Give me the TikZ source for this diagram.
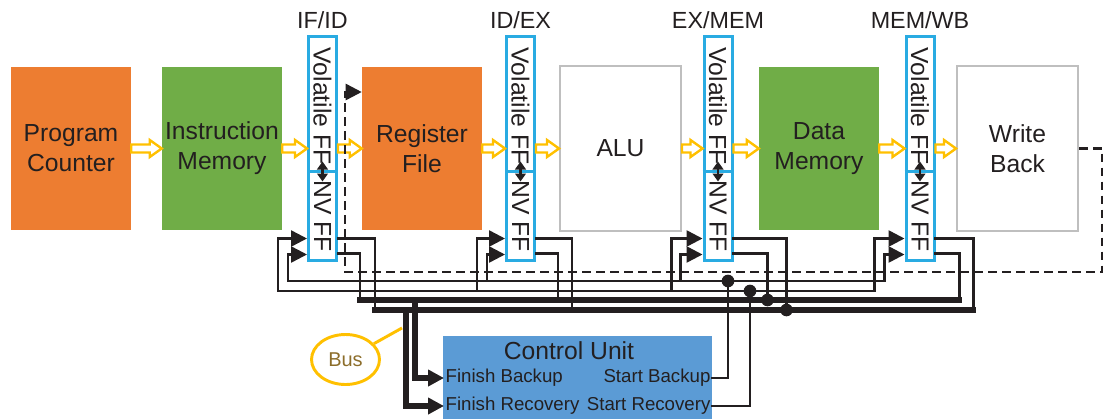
\documentclass[tikz,border=0pt]{standalone}
\usepackage{fontspec}
\setmainfont{Liberation Sans}
\usetikzlibrary{arrows.meta,calc,shapes.geometric,positioning}

\definecolor{pcorange}{HTML}{ED7D31}
\definecolor{memgreen}{HTML}{70AD47}
\definecolor{ffblue}{HTML}{29ABE2}
\definecolor{cublue}{HTML}{5B9BD5}
\definecolor{arrowyellow}{HTML}{FFC000}
\definecolor{boxgray}{HTML}{BFBFBF}
\definecolor{ink}{HTML}{231F20}
\definecolor{busbrown}{HTML}{8C6D2A}

% hollow yellow arrow between two stages
\newcommand{\hollowarrow}[2]{%
  \draw[hollow] ($(#1.east)+(0,-4)$) -- ($(#2.west)+(-12,-4)$) -- ($(#2.west)+(-12,-8.5)$)
    -- (#2.west) -- ($(#2.west)+(-12,8.5)$) -- ($(#2.west)+(-12,4)$) -- ($(#1.east)+(0,4)$) -- cycle;}

\begin{document}
\begin{tikzpicture}[x=0.75pt,y=-0.75pt,>={Triangle[length=12pt,width=12pt]}]
\tikzstyle{block} = [minimum width=90pt,minimum height=122.25pt,inner sep=0pt,align=center,text=ink,font=\fontsize{18.5}{22.5}\selectfont]
\tikzstyle{grayblock} = [block,draw=boxgray,line width=1.5pt,fill=white,minimum width=90.75pt,minimum height=123.75pt]
\tikzstyle{ffbox} = [draw=ffblue,line width=2.25pt,fill=white,minimum width=21pt,minimum height=168pt,inner sep=0pt]
\tikzstyle{fftext} = [rotate=-90,inner sep=0pt,text=ink,font=\fontsize{18.5}{22}\selectfont]
\tikzstyle{fflabel} = [inner sep=0pt,text=ink,font=\fontsize{17.5}{21}\selectfont]
\tikzstyle{wire} = [ink,line width=1.9pt,line cap=rect]
\tikzstyle{bus} = [ink,line width=3.8pt,line cap=rect]
\tikzstyle{feedback} = [ink,line width=1.9pt,dash pattern=on 6.5pt off 4pt]
\tikzstyle{junction} = [circle,fill=ink,minimum size=9.5pt,inner sep=0pt]
\tikzstyle{hollow} = [draw=arrowyellow,line width=1.8pt,fill=white,line join=miter]
\tikzstyle{cuport} = [inner sep=1pt,text=ink,font=\fontsize{14}{16}\selectfont]

\useasboundingbox (0,0) rectangle (1105,418);

% pipeline stages
\node[block,fill=pcorange] (pc) at (71,148.5) {Program\\Counter};
\node[block,fill=memgreen] (im) at (222,148.5) {Instruction\\Memory};
\node[ffbox] (ifid) at (322.5,148.5) {};
\node[block,fill=pcorange] (rf) at (422,148.5) {Register\\File};
\node[ffbox] (idex) at (520.5,148.5) {};
\node[grayblock] (alu) at (620.5,148.5) {ALU};
\node[ffbox] (exmem) at (718,148.5) {};
\node[block,fill=memgreen] (dm) at (819,148.5) {Data\\Memory};
\node[ffbox] (memwb) at (920,148.5) {};
\node[grayblock] (wb) at (1017.5,148.5) {Write\\Back};

\node[fflabel] (ifid-lbl) at ($(ifid.north)+(0,-15)$) {IF/ID};
\node[fflabel] (idex-lbl) at ($(idex.north)+(0,-15)$) {ID/EX};
\node[fflabel] (exmem-lbl) at ($(exmem.north)+(0,-15)$) {EX/MEM};
\node[fflabel] (memwb-lbl) at ($(memwb.north)+(0,-15)$) {MEM/WB};

\hollowarrow{pc}{im}
\hollowarrow{im}{ifid}
\hollowarrow{ifid}{rf}
\hollowarrow{rf}{idex}
\hollowarrow{idex}{alu}
\hollowarrow{alu}{exmem}
\hollowarrow{exmem}{dm}
\hollowarrow{dm}{memwb}
\hollowarrow{memwb}{wb}

% flip-flops and their backup/recovery wires
\foreach \ff/\ia/\ib/\oa/\ob in {ifid/29/19/37/22,idex/28/18/36/22,exmem/31/22/53/34,memwb/30/20/38/24} {
  \node[fftext] (\ff-vol) at ($(\ff.center)+(0,-42.5)$) {Volatile FF};
  \node[fftext] (\ff-nv) at ($(\ff.center)+(0,67.5)$) {NV FF};
  \draw[ffblue,line width=2.25pt] ($(\ff.west)+(0,23)$) -- ($(\ff.east)+(0,23)$);
  \draw[ink,line width=1.6pt,{Triangle[length=6pt,width=8pt]}-{Triangle[length=6pt,width=8pt]}] ($(\ff.center)+(0,13)$) -- ($(\ff.center)+(0,33)$);
  \coordinate (\ff-rin) at ($(\ff.west)+(-\ia,142.5)$);
  \coordinate (\ff-bin) at ($(\ff.west)+(-\ib,132.5)$);
  \coordinate (\ff-rout) at ($(\ff.east)+(\oa,161.5)$);
  \coordinate (\ff-bout) at ($(\ff.east)+(\ob,151.5)$);
  \draw[wire,->] (\ff-rin) |- ($(\ff.west)+(0,90)$);
  \draw[wire,->] (\ff-bin) |- ($(\ff.west)+(0,106)$);
  \draw[wire] ($(\ff.east)+(0,90)$) -| (\ff-rout);
  \draw[wire] ($(\ff.east)+(0,105)$) -| (\ff-bout);
}

% write back feedback
\draw[feedback,->] (wb.east) -- (1102,148.5) -- (1102,272) -- (345,272) -- (345,92) -- ($(rf.west)+(0,-56.5)$);

% buses
\draw[wire] (ifid-bin) -- (memwb-bin);
\draw[wire] (ifid-rin) -- (memwb-rin);
\draw[bus] (ifid-bout) -- (memwb-bout);
\draw[bus] (ifid-rout) -- (memwb-rout);
\node[junction] (exmem-bdot) at (exmem-bout) {};
\node[junction] (exmem-rdot) at (exmem-rout) {};

% control unit
\node[fill=cublue,minimum width=201.75pt,minimum height=66pt,inner sep=0pt] (cu) at (577.5,380) {};
\node[inner sep=0pt,text=ink,font=\fontsize{18.5}{22}\selectfont] (cu-title) at (569,351) {Control Unit};
\node[cuport,anchor=west] (fb) at (444,378) {Finish Backup};
\node[cuport,anchor=east] (sb) at (712,378) {Start Backup};
\node[cuport,anchor=west] (fr) at (444,406) {Finish Recovery};
\node[cuport,anchor=east] (sr) at (712,406) {Start Recovery};

\coordinate (bkpjoin) at (728,281);
\coordinate (recjoin) at (750,291);
\draw[wire] (sb.east) -| (bkpjoin);
\draw[wire] (sr.east) -| (recjoin);
\node[junction] (bkpdot) at (bkpjoin) {};
\node[junction] (recdot) at (recjoin) {};

\coordinate (fbtap) at (415,300);
\coordinate (frtap) at (406,310);
\draw[bus,->] (fbtap) |- (fb.west);
\draw[bus,->] (frtap) |- (fr.west);

% bus callout
\node[ellipse,draw=arrowyellow,line width=2.2pt,minimum width=51pt,minimum height=37.5pt,inner sep=0pt,text=busbrown,font=\fontsize{15}{18}\selectfont] (buslbl) at (345.5,359.5) {Bus};
\coordinate (bustip) at (402,328);
\draw[arrowyellow,line width=2.2pt] (buslbl) -- (bustip);

\end{tikzpicture}
\end{document}
